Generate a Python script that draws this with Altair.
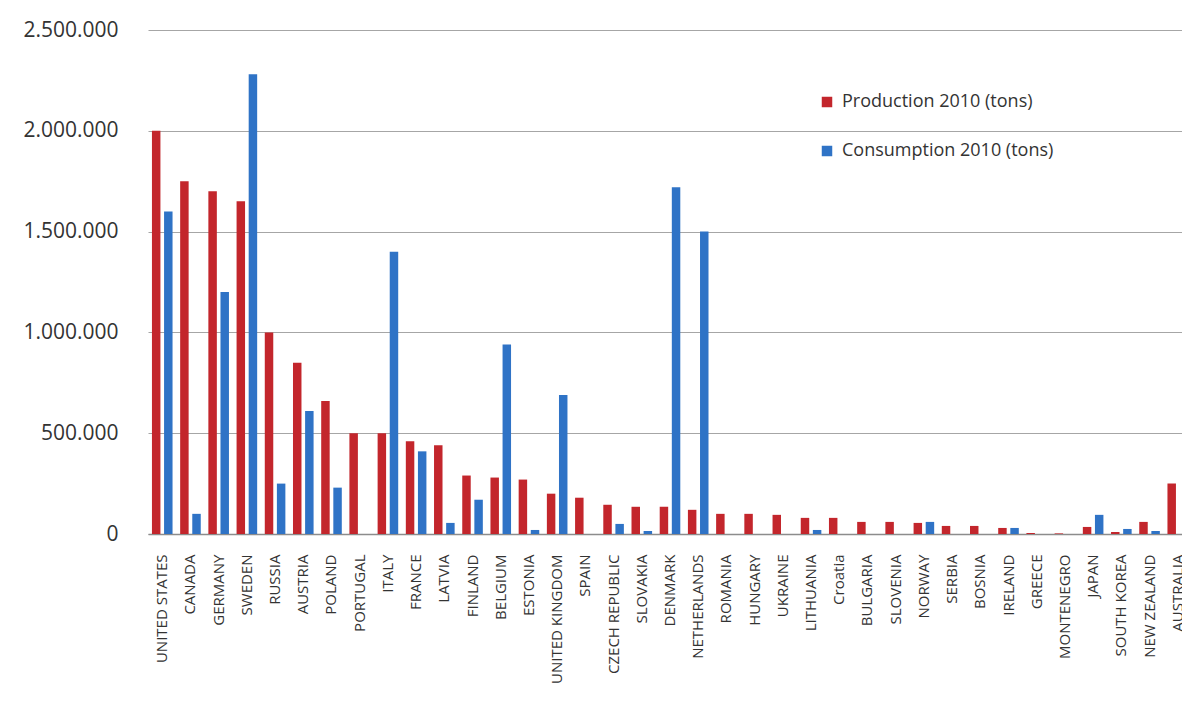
import altair as alt
import pandas as pd

countries = ["UNITED STATES", "CANADA", "GERMANY", "SWEDEN", "RUSSIA", "AUSTRIA", "POLAND",
             "PORTUGAL", " ITALY", "FRANCE", "LATVIA", "FINLAND", "BELGIUM", "ESTONIA",
             "UNITED KINGDOM", " SPAIN", "CZECH REPUBLIC", "SLOVAKIA", "DENMARK", "NETHERLANDS",
             "ROMANIA", "HUNGARY", "UKRAINE", "LITHUANIA", "Croatia", "BULGARIA", "SLOVENIA",
             "NORWAY", "SERBIA", "BOSNIA", "IRELAND", "GREECE", "MONTENEGRO", " JAPAN",
             "SOUTH KOREA", "NEW ZEALAND", "AUSTRALIA"]

production = [2000000, 1750000, 1700000, 1650000, 1000000, 850000, 660000,
              500000, 500000, 460000, 440000, 290000, 280000, 270000,
              200000, 180000, 145000, 135000, 135000, 120000,
              100000, 100000, 95000, 80000, 80000, 60000, 60000,
              55000, 40000, 40000, 30000, 5000, 3000, 35000,
              10000, 60000, 250000]

consumption = [1600000, 100000, 1200000, 2280000, 250000, 610000, 230000,
               0, 1400000, 410000, 55000, 170000, 940000, 20000,
               690000, 0, 50000, 15000, 1720000, 1500000,
               0, 0, 0, 20000, 0, 0, 0,
               60000, 0, 0, 30000, 0, 0, 95000,
               25000, 15000, 0]

series_names = ["Production 2010 (tons)", "Consumption 2010 (tons)"]
series_colors = ["#C3262C", "#2F73C6"]

df = pd.DataFrame({"country": countries, series_names[0]: production, series_names[1]: consumption})
long = df.melt(id_vars="country", var_name="series", value_name="tons")

font = "Open Sans"

chart = alt.Chart(long).mark_bar().encode(
    x=alt.X("country:N", sort=countries, title=None,
            scale=alt.Scale(paddingInner=0.27, paddingOuter=0.14),
            axis=alt.Axis(labelAngle=-90, labelPadding=20, ticks=False, domain=True,
                          domainColor="#8C8C8C", domainWidth=1.5, labelFontSize=15,
                          labelColor="#333333", labelFont=font, labelLimit=0)),
    xOffset=alt.XOffset("series:N", sort=series_names, scale=alt.Scale(paddingInner=0.3)),
    y=alt.Y("tons:Q", title=None,
            scale=alt.Scale(domain=[0, 2500000], nice=False),
            axis=alt.Axis(values=[0, 500000, 1000000, 1500000, 2000000, 2500000],
                          labelExpr="replace(format(datum.value, ',d'), /,/g, '.')",
                          ticks=False, domain=False, labelPadding=30,
                          labelFontSize=21, labelColor="#333333", labelFont=font,
                          grid=True, gridColor="#A6A6A6", gridWidth=1.2)),
    color=alt.Color("series:N", sort=series_names,
                    scale=alt.Scale(domain=series_names, range=series_colors),
                    legend=alt.Legend(title=None, orient="none", legendX=670, legendY=63,
                                      symbolType="square", symbolSize=110, symbolStrokeWidth=0,
                                      labelFontSize=18, labelFont=font, labelColor="#333333",
                                      labelLimit=0, rowPadding=31, labelOffset=6)),
).properties(
    width=1044,
    height=504,
    autosize=alt.AutoSizeParams(type="none"),
    padding={"left": 148, "top": 30, "right": -10, "bottom": 149},
    background="white",
).configure_view(stroke=None)

chart.save("out.html", embed_options={"renderer": "svg", "actions": False})
